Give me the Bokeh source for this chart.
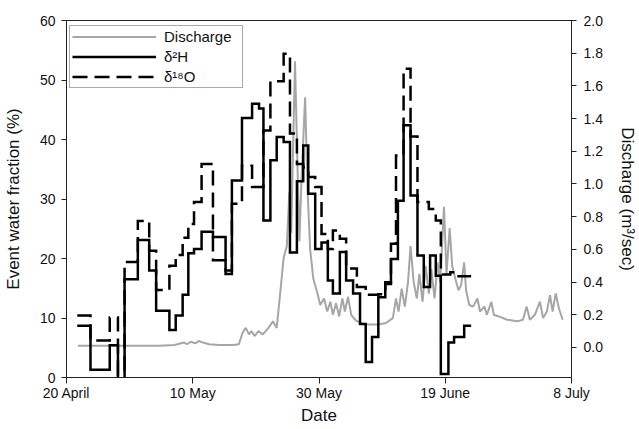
from bokeh.plotting import figure
from bokeh.models import Range1d, LinearAxis, FixedTicker, PrintfTickFormatter, Legend, LegendItem
from bokeh.embed import file_html
from bokeh.resources import INLINE

# x values: days after 20 April
date_ticks = [0, 20, 40, 60, 80]
date_labels = ["20 April", "10 May", "30 May", "19 June", "8 July"]

# delta2H event water fraction (%) - step starts (days) and values
h2_start = [1.7, 3.8, 6.85, 8.15, 9.2, 11.3, 13.1, 14.2, 16.3, 17.3, 18.4, 19.3, 20.2, 21.4, 23.2,
            25.2, 26.2, 27.8, 29.4, 30.5, 31.2, 32.3, 33.3, 34.4, 35.4, 36.5, 37.5, 38.3, 39.4, 40.4,
            41.4, 42.2, 43.3, 44.3, 45.4, 46.5, 47.4, 48.4, 49.4, 50.5, 51.4, 52.5, 53.4, 54.5, 55.6,
            56.6, 57.6, 58.5, 59.3, 60.5, 61.4, 63.0]
h2_vals = [8.7, 1.3, 5.4, -3, 16.5, 23.1, 18.0, 11.2, 8.0, 10.4, 13.9, 20.9, 21.6, 24.5, 23.6,
           17.4, 33.1, 43.6, 46.0, 45.2, 26.4, 36.5, 40.4, 39.6, 21.0, 33.0, 39.0, 30.9, 21.6, 22.7,
           16.3, 14.1, 21.1, 16.3, 14.1, 9.0, 2.6, 6.8, 13.5, 16.0, 19.9, 29.7, 42.4, 30.6, 20.5,
           15.2, 20.5, 17.1, 0.6, 5.9, 6.8, 8.7]
h2_end = 64.1

# delta18O event water fraction (%)
o18_start = [1.7, 3.8, 6.85, 8.15, 9.2, 11.3, 13.1, 14.2, 16.3, 17.3, 18.4, 19.3, 20.2, 21.4, 23.2,
             25.2, 26.2, 27.8, 29.4, 31.2, 32.3, 34.4, 35.4, 36.5, 37.5, 38.3, 39.4, 40.4, 41.4, 42.2,
             43.3, 44.3, 46.0, 47.4, 49.4, 50.5, 51.4, 52.2, 53.4, 54.5, 55.6, 57.4, 58.5, 59.3, 60.8,
             61.6]
o18_vals = [10.4, 6.2, 10.1, -3, 19.4, 26.3, 21.3, 14.7, 18.8, 20.6, 23.5, 25.8, 29.5, 35.9, 19.7,
            18.0, 29.2, 35.6, 32.0, 41.5, 49.8, 54.4, 41.0, 35.9, 35.3, 33.7, 32.0, 24.1, 21.6, 24.7,
            23.3, 18.3, 15.2, 13.9, 14.0, 15.7, 22.5, 37.3, 51.9, 40.5, 29.5, 28.3, 26.4, 17.3, 17.7,
            17.0]
o18_end = 64.1

# discharge (m3/sec)
q_day = [1.8, 5.3, 10.0, 14.7, 17.1, 18.6, 19.1, 19.7, 20.4, 21.0, 21.6, 22.6, 24.2, 26.5, 27.3,
         27.9, 28.4, 28.9, 29.3, 29.8, 30.4, 31.1, 32.0, 32.7, 33.3, 33.9, 34.4, 34.9, 35.3, 35.6,
         36.2, 36.6, 36.9, 37.2, 37.8, 38.2, 38.6, 39.1, 39.7, 40.2, 40.8, 41.3, 41.8, 42.2, 42.7,
         43.2, 43.7, 44.1, 44.6, 45.1, 45.7, 46.5, 47.8, 49.3, 50.6, 51.7, 52.2, 52.6, 53.1, 53.6,
         54.1, 54.5, 55.0, 55.5, 55.9, 56.4, 56.9, 57.4, 57.8, 58.3, 58.8, 59.2, 59.8, 60.2, 60.7,
         61.1, 61.6, 62.1, 62.5, 63.0, 63.3, 63.8, 64.4, 65.1, 65.5, 66.2, 66.6, 67.3, 67.7, 68.5,
         69.8, 71.4, 72.3, 72.9, 73.4, 74.2, 75.0, 75.5, 76.1, 76.6, 77.0, 77.5, 78.0, 78.6]
q_val = [0.01, 0.01, 0.01, 0.01, 0.015, 0.03, 0.02, 0.035, 0.025, 0.04, 0.03, 0.02, 0.015, 0.015, 0.02,
         0.09, 0.12, 0.08, 0.10, 0.07, 0.10, 0.08, 0.12, 0.16, 0.12, 0.35, 0.55, 0.62, 0.95, 0.70,
         1.75, 1.10, 0.65, 1.00, 1.53, 0.95, 0.60, 0.42, 0.34, 0.26, 0.30, 0.22, 0.28, 0.20, 0.27,
         0.19, 0.30, 0.22, 0.31, 0.20, 0.17, 0.15, 0.14, 0.14, 0.15, 0.18, 0.30, 0.22, 0.36, 0.25,
         0.40, 0.62, 0.40, 0.30, 0.45, 0.28, 0.50, 0.33, 0.48, 0.30, 0.52, 0.40, 0.86, 0.45, 0.73,
         0.50, 0.42, 0.35, 0.38, 0.52, 0.35, 0.26, 0.25, 0.30, 0.22, 0.25, 0.20, 0.28, 0.20, 0.19,
         0.17, 0.16, 0.17, 0.25, 0.17, 0.20, 0.28, 0.18, 0.22, 0.32, 0.22, 0.33, 0.24, 0.17]

FONT = "Liberation Sans"

p = figure(width=639, height=429, output_backend="svg", toolbar_location=None,
           x_range=Range1d(0, 80), y_range=Range1d(0, 60),
           min_border_left=66, min_border_right=64, min_border_top=20, min_border_bottom=52,
           x_axis_label="Date", y_axis_label="Event water fraction (%)")
p.xgrid.visible = False
p.ygrid.visible = False
p.outline_line_color = "#222222"
p.outline_line_width = 1
p.background_fill_color = "white"
p.border_fill_color = "white"

p.extra_y_ranges = {"q": Range1d(-0.1835, 2.0)}

# discharge line
r_q = p.line(q_day, q_val, y_range_name="q", line_color="#a6a6a6", line_width=2)

# step lines
r_h = p.step(h2_start + [h2_end], h2_vals + [h2_vals[-1]], mode="after",
             line_color="black", line_width=2.5, line_join="miter")
r_o = p.step(o18_start + [o18_end], o18_vals + [o18_vals[-1]], mode="after",
             line_color="black", line_width=2.5, line_join="miter", line_dash="15 7")

# x axis
xa = p.xaxis[0]
xa.ticker = FixedTicker(ticks=date_ticks)
xa.major_label_overrides = {t: l for t, l in zip(date_ticks, date_labels)}
xa.minor_tick_line_color = None
xa.major_tick_out = 6
xa.major_tick_in = 0
xa.major_label_standoff = 1
xa.axis_label_standoff = 2

# left axis
ya = p.yaxis[0]
ya.ticker = FixedTicker(ticks=[0, 10, 20, 30, 40, 50, 60])
ya.minor_tick_line_color = None
ya.major_tick_out = 5
ya.major_tick_in = 0
ya.major_label_standoff = 6
ya.axis_label_standoff = 14

# right axis
ra = LinearAxis(y_range_name="q", axis_label="Discharge (m³/sec)",
                ticker=FixedTicker(ticks=[0.0, 0.2, 0.4, 0.6, 0.8, 1.0, 1.2, 1.4, 1.6, 1.8, 2.0]),
                formatter=PrintfTickFormatter(format="%.1f"))
ra.minor_tick_line_color = None
ra.major_tick_out = 5
ra.major_tick_in = 0
ra.major_label_standoff = 7
ra.axis_label_standoff = 12
p.add_layout(ra, "right")

for ax in [xa, ya, ra]:
    ax.axis_line_color = "#222222"
    ax.major_tick_line_color = "#222222"
    ax.major_label_text_font = FONT
    ax.major_label_text_font_size = "14px"
    ax.major_label_text_color = "#111111"
    ax.axis_label_text_font = FONT
    ax.axis_label_text_font_size = "17px"
    ax.axis_label_text_font_style = "normal"
    ax.axis_label_text_color = "#111111"

legend = Legend(items=[LegendItem(label="Discharge", renderers=[r_q]),
                       LegendItem(label="δ²H", renderers=[r_h]),
                       LegendItem(label="δ¹⁸O", renderers=[r_o])],
                location=(3, 289))
legend.glyph_width = 84
legend.glyph_height = 17
legend.label_height = 17
legend.label_width = 76
legend.label_standoff = 8
legend.padding = 2
legend.spacing = 3
legend.margin = 0
legend.border_line_color = "#555555"
legend.border_line_width = 1
legend.label_text_font = FONT
legend.label_text_font_size = "15px"
legend.label_text_color = "#111111"
legend.background_fill_alpha = 1.0
p.add_layout(legend)

open("out.html", "w").write(file_html(p, INLINE))
